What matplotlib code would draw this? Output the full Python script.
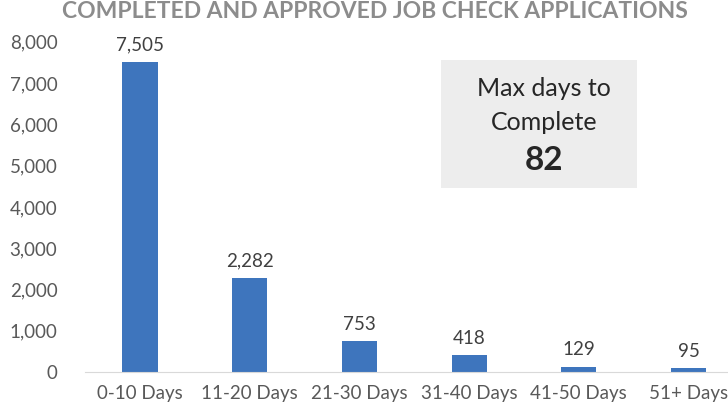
import matplotlib
matplotlib.use("Agg")
import matplotlib.pyplot as plt
import numpy as np

categories = ["0-10 Days", "11-20 Days", "21-30 Days", "31-40 Days", "41-50 Days", "51+ Days"]
counts = [7505, 2282, 753, 418, 129, 95]
max_days = 82

plt.rcParams['font.family'] = ['Lato', 'DejaVu Sans']

fig = plt.figure(figsize=(7.28, 4.13), dpi=100)
ax = fig.add_axes([0.117, 0.099, 0.904, 0.8])

x = np.arange(len(categories))
bars = ax.bar(x, counts, width=0.32, color="#3E75BD", zorder=2)

for xi, v in zip(x, counts):
    ax.annotate(f"{v:,}", (xi, v), xytext=(0, 6), textcoords="offset points",
                ha="center", va="bottom", fontsize=13.5, color="#404040")

ax.set_xlim(-0.5, len(categories) - 0.5)
ax.set_ylim(0, 8000)
ax.set_yticks(np.arange(0, 8001, 1000))
ax.set_yticklabels([f"{t:,}" for t in range(0, 8001, 1000)])
ax.set_xticks(x)
ax.set_xticklabels(categories)
ax.tick_params(axis="both", length=0, labelsize=13.5, labelcolor="#595959")
ax.tick_params(axis="x", pad=9)
ax.tick_params(axis="y", pad=20)

for s in ["top", "right", "left"]:
    ax.spines[s].set_visible(False)
ax.spines["bottom"].set_color("#D9D9D9")

fig.text(0.515, 1 - 12 / 413, "COMPLETED AND APPROVED JOB CHECK APPLICATIONS",
         ha="center", va="center", fontsize=16.5, fontweight="bold", color="#8C8C8C")

# summary box
fig.patches.append(plt.Rectangle((441 / 728, 1 - 188 / 413), 196 / 728, 128 / 413,
                                 transform=fig.transFigure, facecolor="#EDEDED",
                                 edgecolor="none", zorder=0))
fig.text(544 / 728, 1 - 89 / 413, "Max days to", ha="center", va="center",
         fontsize=18, color="#262626")
fig.text(544 / 728, 1 - 123 / 413, "Complete", ha="center", va="center",
         fontsize=18, color="#262626")
fig.text(544 / 728, 1 - 160 / 413, str(max_days), ha="center", va="center",
         fontsize=24, fontweight="bold", color="#262626")

fig.savefig("out.png", dpi=100)
